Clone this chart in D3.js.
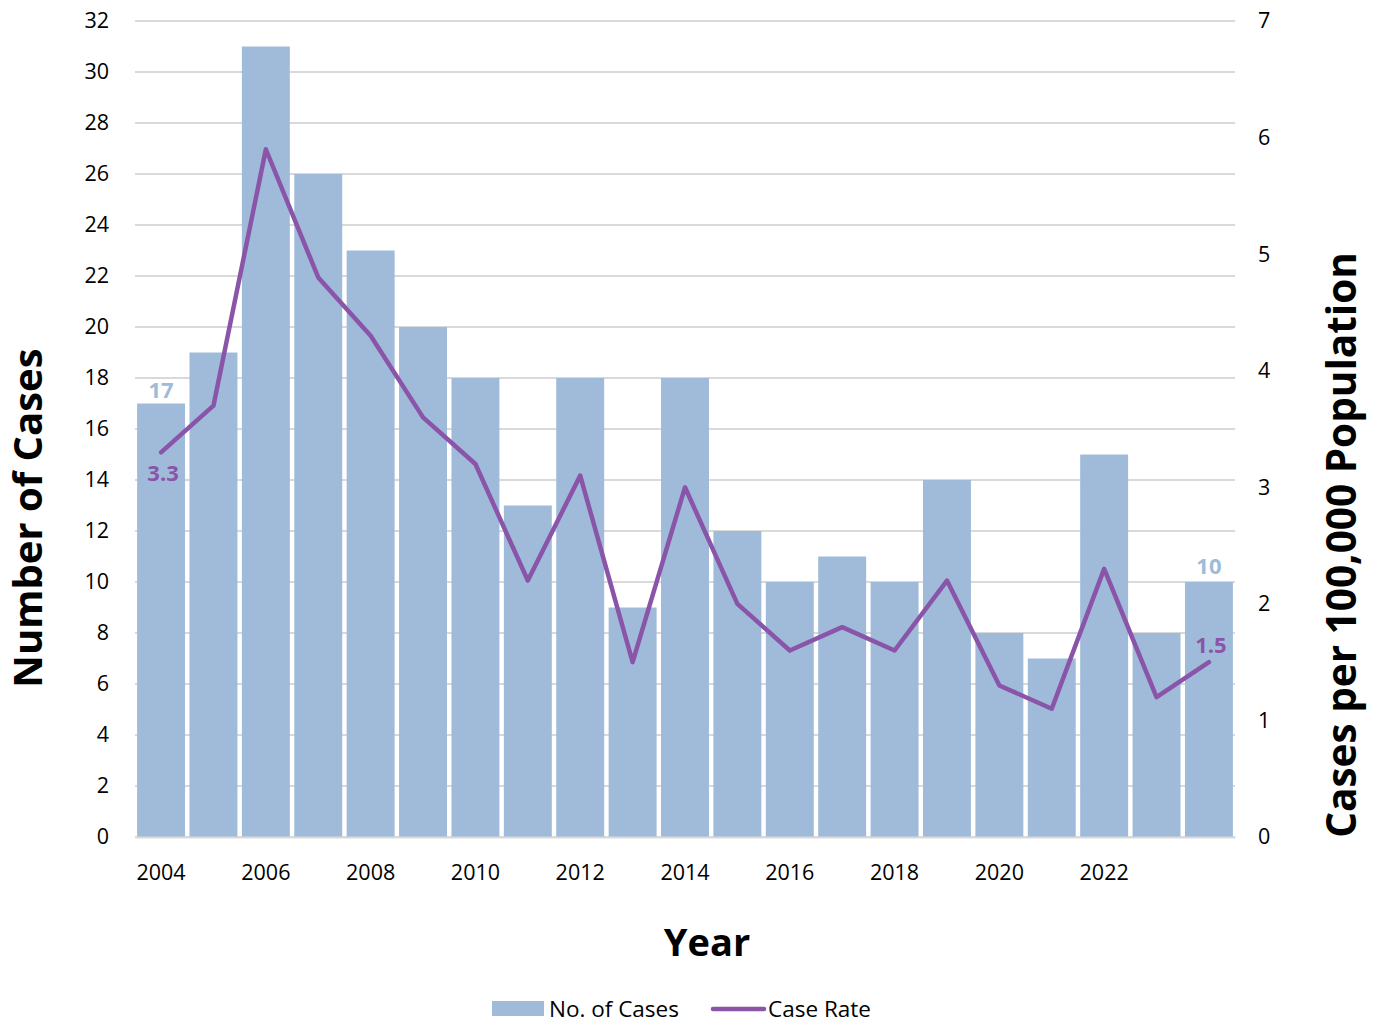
<!DOCTYPE html>
<html><head><meta charset="utf-8">
<script src="https://cdn.jsdelivr.net/npm/d3@7"></script>
<style>body{margin:0;background:#fff}svg{display:block}text{font-family:"Open Sans","Noto Sans",sans-serif}</style>
</head><body><svg id="c" width="1381" height="1024"></svg>
<script>
const years = [2004,2005,2006,2007,2008,2009,2010,2011,2012,2013,2014,2015,2016,2017,2018,2019,2020,2021,2022,2023,2024];
const cases = [17,19,31,26,23,20,18,13,18,9,18,12,10,11,10,14,8,7,15,8,10];
const rates = [3.3,3.7,5.9,4.8,4.3,3.6,3.2,2.2,3.1,1.5,3.0,2.0,1.6,1.8,1.6,2.2,1.3,1.1,2.3,1.2,1.5];
const leftTicks = d3.range(0,33,2);
const rightTicks = [0,1,2,3,4,5,6,7];
const xTickLabels = [2004,2006,2008,2010,2012,2014,2016,2018,2020,2022];

const barColor = "#9fbbd9", lineColor = "#8a55a8", gridColor = "#d9d9d9";
const FF = '"Open Sans","Noto Sans",sans-serif';
const svg = d3.select("#c");
const L = 135, R = 1235, T = 21, B = 837;
const x = d3.scaleBand().domain(years).range([L, R]).paddingInner(0.085).paddingOuter(0.04);
const yL = d3.scaleLinear().domain([0,32]).range([B, T]);
const yR = d3.scaleLinear().domain([0,7]).range([B, T]);

// grid
svg.append("g").selectAll("line").data(leftTicks).join("line")
  .attr("x1", L).attr("x2", R).attr("y1", d=>yL(d)).attr("y2", d=>yL(d))
  .attr("stroke", gridColor).attr("stroke-width", 2);

// bars
svg.append("g").selectAll("rect").data(years).join("rect")
  .attr("x", d=>x(d)).attr("width", x.bandwidth())
  .attr("y", (d,i)=>yL(cases[i])).attr("height", (d,i)=>B - yL(cases[i]))
  .attr("fill", barColor);

// line
const line = d3.line().x((d,i)=>x(years[i]) + x.bandwidth()/2).y(d=>yR(d));
svg.append("path").datum(rates).attr("d", line).attr("fill","none")
  .attr("stroke", lineColor).attr("stroke-width", 4.5).attr("stroke-linejoin","round").attr("stroke-linecap","round");

// left axis
const la = svg.append("g").attr("transform", `translate(${L},0)`)
  .call(d3.axisLeft(yL).tickValues(leftTicks).tickSize(0).tickPadding(26));
la.select(".domain").remove();
la.selectAll("text").attr("font-size", 21.5).attr("fill","#000").style("font-family",FF);

// right axis
const ra = svg.append("g").attr("transform", `translate(${R},0)`)
  .call(d3.axisRight(yR).tickValues(rightTicks).tickSize(0).tickPadding(23).tickFormat(d3.format("d")));
ra.select(".domain").remove();
ra.selectAll("text").attr("font-size", 21.5).attr("fill","#000").style("font-family",FF);

// x axis
const xa = svg.append("g").attr("transform", `translate(0,${B})`)
  .call(d3.axisBottom(x).tickValues(xTickLabels).tickSize(0).tickPadding(28).tickFormat(d3.format("d")));
xa.select(".domain").attr("stroke", gridColor).attr("stroke-width", 2);
xa.selectAll("text").attr("font-size", 21.5).attr("fill","#000").style("font-family",FF);

// data labels
const first = 0, last = years.length - 1;
const cx = i => x(years[i]) + x.bandwidth()/2;
svg.append("text").attr("x", cx(first)).attr("y", yL(cases[first]) - 6).attr("text-anchor","middle")
  .attr("font-size", 22).attr("font-weight","bold").attr("fill", barColor).text(cases[first]);
svg.append("text").attr("x", cx(first)+2).attr("y", yR(rates[first]) + 29).attr("text-anchor","middle")
  .attr("font-size", 22).attr("font-weight","bold").attr("fill", lineColor).text(d3.format(".1f")(rates[first]));
svg.append("text").attr("x", cx(last)).attr("y", yL(cases[last]) - 8).attr("text-anchor","middle")
  .attr("font-size", 22).attr("font-weight","bold").attr("fill", barColor).text(cases[last]);
svg.append("text").attr("x", cx(last)+2).attr("y", yR(rates[last]) - 9).attr("text-anchor","middle")
  .attr("font-size", 22).attr("font-weight","bold").attr("fill", lineColor).text(d3.format(".1f")(rates[last]));

// axis titles
svg.append("text").attr("transform","translate(42,518) rotate(-90)").attr("text-anchor","middle")
  .attr("font-size", 40).attr("font-weight","bold").attr("fill","#000").text("Number of Cases");
svg.append("text").attr("transform","translate(1356,545) rotate(-90)").attr("text-anchor","middle")
  .attr("font-size", 40.5).attr("font-weight","bold").attr("fill","#000").text("Cases per 100,000 Population");
svg.append("text").attr("x", 707).attr("y", 956).attr("text-anchor","middle")
  .attr("font-size", 38).attr("font-weight","bold").attr("fill","#000").text("Year");

// legend
const lg = svg.append("g");
lg.append("rect").attr("x",492).attr("y",1001).attr("width",52).attr("height",15).attr("fill",barColor);
lg.append("text").attr("x",549).attr("y",1017).attr("font-size",22.5).attr("fill","#000").text("No. of Cases");
lg.append("line").attr("x1",713).attr("x2",764).attr("y1",1009).attr("y2",1009)
  .attr("stroke",lineColor).attr("stroke-width",4.5).attr("stroke-linecap","round");
lg.append("text").attr("x",768).attr("y",1017).attr("font-size",22.5).attr("fill","#000").text("Case Rate");
</script></body></html>
